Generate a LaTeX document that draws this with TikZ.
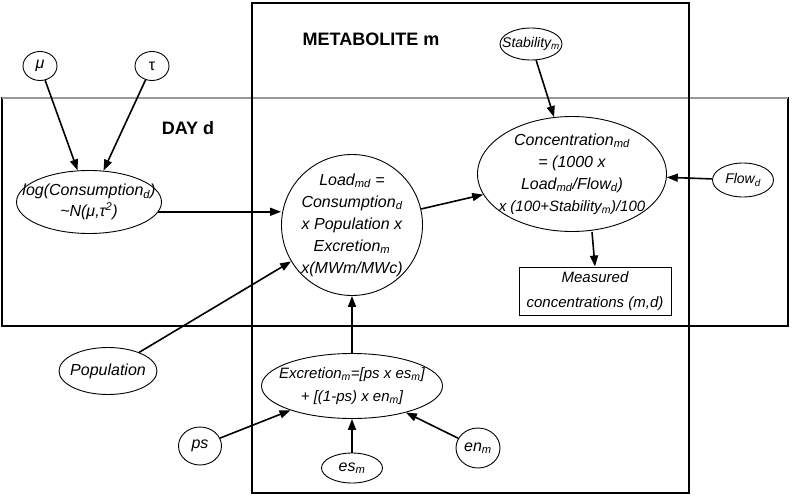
\documentclass[tikz,border=0pt]{standalone}
\usepackage{fontspec}
\setmainfont{Liberation Sans}
\usetikzlibrary{shapes.geometric,arrows.meta}

\tikzset{
  var/.style={draw=black, ellipse, line width=0.9pt, inner sep=0pt},
  big/.style={align=center, inner sep=0pt, font=\fontsize{16}{22}\selectfont\itshape},
  small/.style={align=center, inner sep=0pt, font=\fontsize{14}{17}\selectfont\itshape},
  arr/.style={-{Triangle[length=11pt,width=8pt]}, line width=1.6pt},
  plate/.style={draw=black, line width=1.1pt},
  platelabel/.style={font=\fontsize{18}{22}\selectfont\bfseries}
}

\begin{document}
\begin{tikzpicture}[x=1pt, y=-1pt]
\useasboundingbox (0,0) rectangle (792,495);

% plates
\draw[plate] (2,98) rectangle (788,326);
\draw[draw=gray!80, line width=1.6pt] (2,98) -- (788,98);
\draw[plate] (252,3) rectangle (689,493);
\node[platelabel] (daylab) at (188,128) {DAY d};
\node[platelabel] (metlab) at (371,39) {METABOLITE m};

% hyperparameters
\node[var, minimum width=34, minimum height=29, label={[big]center:{μ}}] (mu) at (40,66) {};
\node[var, minimum width=34, minimum height=29, label={[big, font=\fontsize{16}{22}\selectfont]center:{τ}}] (tau) at (152,66) {};

% day level
\node[var, minimum width=145, minimum height=63,
  label={[big]center:{log(Consumption\textsubscript{d})\\[-1pt]\textasciitilde N(μ,τ\textsuperscript{2})}}] (log) at (89,202) {};
\node[var, minimum width=141, minimum height=141,
  label={[big]center:{Load\textsubscript{md} =\\Consumption\textsubscript{d}\\x Population x\\Excretion\textsubscript{m}\\x(MWm/MWc)}}] (load) at (352,225) {};
\node[var, minimum width=189, minimum height=115,
  label={[big]center:{Concentration\textsubscript{md}\\= (1000 x\\Load\textsubscript{md}/Flow\textsubscript{d})\\{\fontsize{15}{22}\selectfont x (100+Stability\textsubscript{m})/100}}}] (conc) at (572,174) {};
\node[var, minimum width=62, minimum height=32, label={[small]center:{Stability\textsubscript{m}}}] (stab) at (531,44) {};
\node[var, minimum width=61, minimum height=34, label={[small]center:{Flow\textsubscript{d}}}] (flow) at (743,180) {};
\node[draw=black, line width=0.9pt, minimum width=152, minimum height=48, inner sep=0pt,
  align=center, font=\fontsize{15}{25}\selectfont\itshape] (meas) at (595,291) {Measured\\concentrations (m,d)};

% metabolite level
\node[var, minimum width=98, minimum height=47, label={[big]center:{Population}}] (pop) at (108,371) {};
\node[var, minimum width=181, minimum height=65,
  label={[big, font=\fontsize{15}{23}\selectfont\itshape]center:{Excretion\textsubscript{m}=[ps x es\textsubscript{m}]\\+ [(1-ps) x en\textsubscript{m}]}}] (excr) at (352,386) {};
\node[var, minimum width=43, minimum height=38, label={[big]center:{ps}}] (ps) at (200,446) {};
\node[var, minimum width=61, minimum height=30, label={[big]center:{es\textsubscript{m}}}] (es) at (352,468) {};
\node[var, minimum width=44, minimum height=40, label={[big]center:{en\textsubscript{m}}}] (en) at (478,448) {};

% arrows
\draw[arr] (mu) -- (log);
\draw[arr] (tau) -- (log);
\draw[arr] (log.-8) -- (load.west |- log.-8);
\draw[arr] (load) -- (conc);
\draw[arr] (stab) -- (conc);
\draw[arr] (flow) -- (conc);
\draw[arr] ([xshift=20pt]conc.south) -- (meas.north);
\draw[arr] (pop) -- (load);
\draw[arr] (excr) -- (load);
\draw[arr] (ps) -- (excr);
\draw[arr] (es) -- (excr);
\draw[arr] (en) -- (excr);
\end{tikzpicture}
\end{document}
